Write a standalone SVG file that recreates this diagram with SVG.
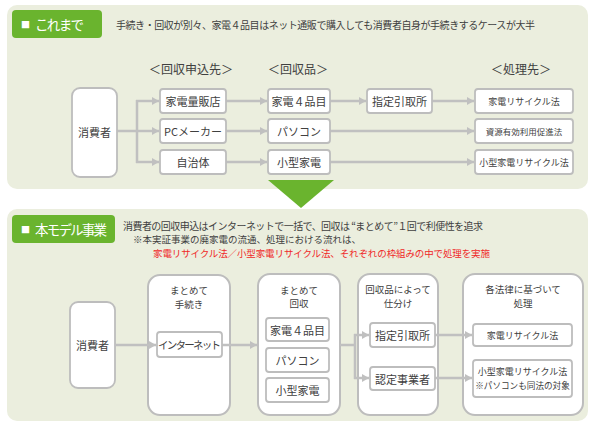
<svg xmlns="http://www.w3.org/2000/svg" width="595" height="431" viewBox="0 0 595 431">
<defs>
<style>
text{font-family:"Noto Sans CJK JP","Noto Sans CJK SC",sans-serif;fill:#404040;dominant-baseline:central}
.panel{fill:#EBEEDE}
.tag{fill:#6AB42E}
.tagt{fill:#FFFFFF;font-size:13.5px}
.box{fill:#FFFFFF;stroke:#BDBDBD;stroke-width:1.8}
.big{fill:#FFFFFF;stroke:#BDBDBD;stroke-width:2}
.c{text-anchor:middle}
.t11{font-size:11px}
.t10{font-size:10px}
.t9{font-size:9px}
.t95{font-size:9.5px}
.hd{font-size:12px}
.red{fill:#F02828}
.ln{fill:none;stroke:#C0C0C0;stroke-width:2.5}
</style>
<marker id="ah" markerUnits="userSpaceOnUse" markerWidth="7" markerHeight="8" refX="7" refY="4" orient="auto">
<path d="M0,0 L7,4 L0,8 z" fill="#C0C0C0"/>
</marker>
</defs>

<!-- panels -->
<rect class="panel" x="7" y="5" width="581" height="184" rx="10"/>
<rect class="panel" x="7" y="209" width="581" height="212" rx="10"/>

<!-- top section header -->
<g id="tag-kore">
<rect class="tag" x="12" y="10" width="90" height="28" rx="4"/>
<text class="tagt" x="21" y="24"><tspan style="font-size:9px">■</tspan><tspan x="35" textLength="49">これまで</tspan></text>
</g>
<text class="t10" x="116" y="24" textLength="419">手続き・回収が別々、家電４品目はネット通販で購入しても消費者自身が手続きするケースが大半</text>

<text class="hd c" x="191" y="68">＜回収申込先＞</text>
<text class="hd c" x="298" y="68">＜回収品＞</text>
<text class="hd c" x="521" y="68">＜処理先＞</text>

<!-- top connectors -->
<g id="top-connectors">
<path class="ln" d="M117,131 H137 M137,100 V163"/>
<path class="ln" d="M136,101 H159" marker-end="url(#ah)"/>
<path class="ln" d="M137,131 H159" marker-end="url(#ah)"/>
<path class="ln" d="M136,162 H159" marker-end="url(#ah)"/>
<path class="ln" d="M226,101 H267" marker-end="url(#ah)"/>
<path class="ln" d="M226,131 H267" marker-end="url(#ah)"/>
<path class="ln" d="M226,162 H267" marker-end="url(#ah)"/>
<path class="ln" d="M330,101 H366" marker-end="url(#ah)"/>
<path class="ln" d="M432,101 H474" marker-end="url(#ah)"/>
<path class="ln" d="M330,131 H474" marker-end="url(#ah)"/>
<path class="ln" d="M330,162 H474" marker-end="url(#ah)"/>
</g>

<!-- top nodes -->
<g id="top-consumer"><rect class="box" x="72" y="88" width="45" height="89" rx="8"/><text class="t11 c" x="94.5" y="132">消費者</text></g>
<g id="top-ryohanten"><rect class="box" x="160" y="89" width="66" height="24" rx="3"/><text class="t11 c" x="193" y="101">家電量販店</text></g>
<g id="top-pcmaker"><rect class="box" x="160" y="119" width="66" height="24" rx="3"/><text class="t11 c" x="193" y="131">PCメーカー</text></g>
<g id="top-jichitai"><rect class="box" x="160" y="150" width="66" height="24" rx="3"/><text class="t11 c" x="193" y="162">自治体</text></g>
<g id="top-kaden4"><rect class="box" x="268" y="89" width="62" height="24" rx="3"/><text class="t11 c" x="299" y="101">家電４品目</text></g>
<g id="top-pc"><rect class="box" x="268" y="119" width="62" height="24" rx="3"/><text class="t11 c" x="299" y="131">パソコン</text></g>
<g id="top-kogata"><rect class="box" x="268" y="150" width="62" height="24" rx="3"/><text class="t11 c" x="299" y="162">小型家電</text></g>
<g id="top-shitei"><rect class="box" x="367" y="89" width="65" height="24" rx="3"/><text class="t11 c" x="399.5" y="101">指定引取所</text></g>
<g id="top-law1"><rect class="box" x="475" y="89" width="98" height="24" rx="3"/><text class="t9 c" x="524" y="101">家電リサイクル法</text></g>
<g id="top-law2"><rect class="box" x="475" y="119" width="98" height="24" rx="3"/><text class="c" style="font-size:8.5px" x="524" y="131">資源有効利用促進法</text></g>
<g id="top-law3"><rect class="box" x="475" y="150" width="98" height="24" rx="3"/><text class="t9 c" x="524" y="162">小型家電リサイクル法</text></g>

<!-- down triangle -->
<polygon points="268,180 334,180 301,208" fill="#6AB42E"/>

<!-- bottom section header -->
<g id="tag-model">
<rect class="tag" x="12" y="215" width="103" height="28" rx="4"/>
<text class="tagt" x="21" y="229"><tspan style="font-size:9px">■</tspan><tspan x="35" textLength="72">本モデル事業</tspan></text>
</g>
<text class="t10" x="123" y="225" textLength="360">消費者の回収申込はインターネットで一括で、回収は “まとめて”１回で利便性を追求</text>
<text class="t95" x="133" y="239">※本実証事業の廃家電の流通、処理における流れは、</text>
<text class="t95 red" x="153" y="253" textLength="337">家電リサイクル法／小型家電リサイクル法、それぞれの枠組みの中で処理を実施</text>

<!-- bottom containers -->
<g id="bot-consumer"><rect class="box" x="70" y="302" width="45" height="86" rx="8"/><text class="t11 c" x="92.5" y="345">消費者</text></g>
<g id="bot-tetsuzuki">
<rect class="big" x="148" y="275" width="82" height="140" rx="12"/>
<text class="t95 c" x="189" y="290">まとめて</text>
<text class="t95 c" x="189" y="304">手続き</text>
</g>
<g id="bot-kaishu">
<rect class="big" x="258" y="274" width="82" height="141" rx="12"/>
<text class="t95 c" x="299" y="290">まとめて</text>
<text class="t95 c" x="299" y="303">回収</text>
</g>
<g id="bot-shiwake">
<rect class="big" x="358" y="274" width="80" height="141" rx="12"/>
<text class="t95 c" x="398" y="289">回収品によって</text>
<text class="t95 c" x="398" y="303">仕分け</text>
</g>
<g id="bot-shori">
<rect class="big" x="463" y="274" width="120" height="141" rx="12"/>
<text class="t95 c" x="523" y="289">各法律に基づいて</text>
<text class="t95 c" x="523" y="303">処理</text>
</g>

<!-- bottom connectors -->
<g id="bottom-connectors">
<path class="ln" d="M115,345 H156" marker-end="url(#ah)"/>
<path class="ln" d="M222,345 H257" marker-end="url(#ah)"/>
<path class="ln" d="M340,345 H355 M355,334 V379"/>
<path class="ln" d="M354,335 H369" marker-end="url(#ah)"/>
<path class="ln" d="M354,378 H369" marker-end="url(#ah)"/>
<path class="ln" d="M435,335 H472" marker-end="url(#ah)"/>
<path class="ln" d="M435,378 H472" marker-end="url(#ah)"/>
</g>

<!-- bottom inner nodes -->
<g id="bot-internet"><rect class="box" x="157" y="332" width="65" height="25" rx="3"/><text class="c" style="font-size:10.5px" x="189.5" y="344.5" textLength="63">インターネット</text></g>
<g id="bot-kaden4"><rect class="box" x="266" y="318" width="63" height="23" rx="3"/><text class="t11 c" x="297.5" y="329.5">家電４品目</text></g>
<g id="bot-pc"><rect class="box" x="266" y="348" width="63" height="24" rx="3"/><text class="t11 c" x="297.5" y="360">パソコン</text></g>
<g id="bot-kogata"><rect class="box" x="266" y="378" width="63" height="24" rx="3"/><text class="t11 c" x="297.5" y="390">小型家電</text></g>
<g id="bot-shitei"><rect class="box" x="370" y="323" width="65" height="24" rx="3"/><text class="t11 c" x="402.5" y="335">指定引取所</text></g>
<g id="bot-nintei"><rect class="box" x="370" y="367" width="65" height="23" rx="3"/><text class="t11 c" x="402.5" y="378.5">認定事業者</text></g>
<g id="bot-law1"><rect class="box" x="473" y="324" width="99" height="22" rx="3"/><text class="t9 c" x="522.5" y="335">家電リサイクル法</text></g>
<g id="bot-law2"><rect class="box" x="473" y="360" width="99" height="37" rx="3"/><text class="t9 c" x="522.5" y="371">小型家電リサイクル法</text><text class="c" style="font-size:8.6px" x="522.5" y="385">※パソコンも同法の対象</text></g>
</svg>
